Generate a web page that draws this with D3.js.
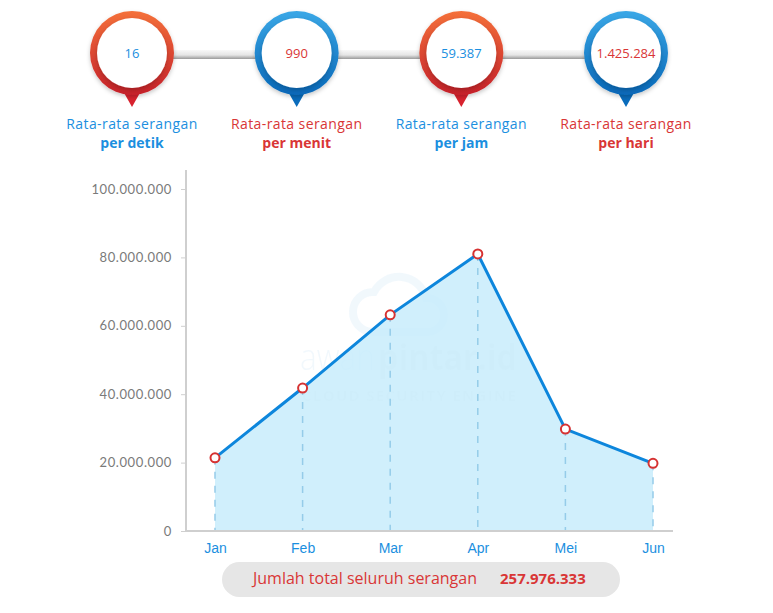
<!DOCTYPE html>
<html>
<head>
<meta charset="utf-8">
<script src="https://cdn.jsdelivr.net/npm/d3@7"></script>
<style>
  body { margin: 0; background: #fff; }
  svg { display: block; font-family: "Open Sans", sans-serif; }
</style>
</head>
<body>
<div id="chart"></div>
<script>
// data
const months = ['Jan', 'Feb', 'Mar', 'Apr', 'Mei', 'Jun'];
const attacks = [21400000, 41800000, 63200000, 81000000, 29800000, 19800000];
const yTicks = [0, 20000000, 40000000, 60000000, 80000000, 100000000];

const badgeValues = ['16', '990', '59.387', '1.425.284'];
const badgeUnits = ['per detik', 'per menit', 'per jam', 'per hari'];
const badgeTheme = ['red', 'blue', 'red', 'blue'];
const totalLabel = 'Jumlah total seluruh serangan';
const totalValue = '257.976.333';

const W = 773, H = 613;
const blue = '#1b8fe0', red = '#d93636';
const fmt = v => d3.format(',')(v).replace(/,/g, '.');

const svg = d3.select('#chart').append('svg')
  .attr('width', W).attr('height', H);

const defs = svg.append('defs');
const gRed = defs.append('linearGradient').attr('id', 'gRed')
  .attr('x1', 0).attr('y1', 0).attr('x2', 0).attr('y2', 1);
gRed.append('stop').attr('offset', '0%').attr('stop-color', '#f4703a');
gRed.append('stop').attr('offset', '100%').attr('stop-color', '#c5202a');
const gBlue = defs.append('linearGradient').attr('id', 'gBlue')
  .attr('x1', 0).attr('y1', 0).attr('x2', 0).attr('y2', 1);
gBlue.append('stop').attr('offset', '0%').attr('stop-color', '#3aa7e6');
gBlue.append('stop').attr('offset', '100%').attr('stop-color', '#0868b8');
const gBar = defs.append('linearGradient').attr('id', 'gBar')
  .attr('x1', 0).attr('y1', 0).attr('x2', 0).attr('y2', 1);
gBar.append('stop').attr('offset', '0%').attr('stop-color', '#f8f8f8');
gBar.append('stop').attr('offset', '55%').attr('stop-color', '#e6e6e6');
gBar.append('stop').attr('offset', '100%').attr('stop-color', '#9a9a9a');
const shadow = defs.append('filter').attr('id', 'shadow')
  .attr('x', '-30%').attr('y', '-30%').attr('width', '160%').attr('height', '160%');
shadow.append('feDropShadow').attr('dx', 0).attr('dy', 2).attr('stdDeviation', 2)
  .attr('flood-color', '#000').attr('flood-opacity', 0.22);

// badges row
const bx = d3.scalePoint().domain(d3.range(badgeValues.length)).range([132, 626]);
const by = 53;

svg.append('rect')
  .attr('x', bx(0)).attr('y', 50).attr('width', bx(3) - bx(0)).attr('height', 9)
  .attr('fill', 'url(#gBar)');

const badge = svg.selectAll('.badge')
  .data(badgeValues)
  .enter().append('g')
  .attr('class', 'badge')
  .attr('transform', (d, i) => `translate(${bx(i)},${by})`);

badge.append('path')
  .attr('d', 'M-9,38 L0,54 L9,38 Z')
  .attr('fill', (d, i) => badgeTheme[i] === 'red' ? '#d8222e' : '#0a6cbc');
badge.append('circle')
  .attr('r', 42)
  .attr('fill', (d, i) => badgeTheme[i] === 'red' ? 'url(#gRed)' : 'url(#gBlue)')
  .attr('filter', 'url(#shadow)');
badge.append('circle')
  .attr('r', 35)
  .attr('fill', '#fff')
  .attr('filter', 'url(#shadow)');
badge.append('text')
  .attr('text-anchor', 'middle').attr('dy', '0.35em')
  .attr('font-size', 13)
  .attr('fill', (d, i) => badgeTheme[i] === 'red' ? blue : red)
  .text(d => d);
badge.append('text')
  .attr('text-anchor', 'middle').attr('y', 129 - by)
  .attr('font-size', 14).attr('letter-spacing', 0.4)
  .attr('fill', (d, i) => badgeTheme[i] === 'red' ? blue : red)
  .text('Rata-rata serangan');
badge.append('text')
  .attr('text-anchor', 'middle').attr('y', 148 - by)
  .attr('font-size', 14).attr('font-weight', 'bold')
  .attr('fill', (d, i) => badgeTheme[i] === 'red' ? blue : red)
  .text((d, i) => badgeUnits[i]);

// chart
const x = d3.scalePoint().domain(months).range([215, 653]);
const y = d3.scaleLinear().domain([0, 100000000]).range([531, 189]);

// watermark
const wm = svg.append('g').attr('opacity', 0.06);
wm.append('path')
  .attr('d', 'M372,332 a20,20 0 0 1 2,-40 a28,28 0 0 1 52,6 a17,17 0 0 1 2,34 Z')
  .attr('fill', 'none').attr('stroke', '#2a8fd8').attr('stroke-width', 8);
wm.append('text').attr('x', 300).attr('y', 370).attr('font-size', 36)
  .attr('textLength', 75).attr('lengthAdjust', 'spacingAndGlyphs')
  .attr('font-weight', 300).attr('fill', '#2a8fd8').text('awan');
wm.append('text').attr('x', 378).attr('y', 370).attr('font-size', 36)
  .attr('textLength', 139).attr('lengthAdjust', 'spacingAndGlyphs')
  .attr('font-weight', 'bold').attr('fill', '#333').text('pintar.id');
wm.append('text').attr('x', 302).attr('y', 401).attr('font-size', 15)
  .attr('font-weight', 'bold').attr('fill', '#333')
  .attr('textLength', 214).attr('lengthAdjust', 'spacing')
  .text('CLOUD SECURITY ENGINE');

const area = d3.area().x(d => x(d.m)).y0(y(0)).y1(d => y(d.v));
const line = d3.line().x(d => x(d.m)).y(d => y(d.v));
const pts = months.map((m, i) => ({ m, v: attacks[i] }));

svg.append('path').datum(pts)
  .attr('d', area).attr('fill', '#c8ecfc').attr('opacity', 0.85);

svg.selectAll('.drop')
  .data(pts).enter().append('line')
  .attr('x1', d => x(d.m)).attr('x2', d => x(d.m))
  .attr('y1', d => y(d.v)).attr('y2', y(0))
  .attr('stroke', '#95cce9').attr('stroke-width', 1.5)
  .attr('stroke-dasharray', '7,7');

// y axis
const yAxis = svg.append('g')
  .attr('transform', 'translate(186,0)')
  .call(d3.axisLeft(y).tickValues(yTicks).tickFormat(fmt).tickSize(5).tickPadding(9));
yAxis.select('.domain').attr('stroke', '#cfcfcf').attr('stroke-width', 2)
  .attr('d', `M0,${170}V${y(0)}`);
yAxis.selectAll('.tick line').attr('stroke', '#cfcfcf');
yAxis.selectAll('.tick text').attr('fill', '#7a7a7a')
  .attr('font-size', 13).attr('letter-spacing', 0.6)
  .attr('font-family', 'Lato, sans-serif');

// x axis
const xAxis = svg.append('g')
  .attr('transform', `translate(0,${y(0)})`)
  .call(d3.axisBottom(x).tickSize(0).tickPadding(12));
xAxis.select('.domain').attr('stroke', '#cfcfcf').attr('stroke-width', 2)
  .attr('d', 'M186,0H673');
xAxis.selectAll('.tick text').attr('fill', blue).attr('font-size', 14);

svg.append('path').datum(pts)
  .attr('d', line).attr('fill', 'none')
  .attr('stroke', '#0d86dc').attr('stroke-width', 3);

svg.selectAll('.dot')
  .data(pts).enter().append('circle')
  .attr('cx', d => x(d.m)).attr('cy', d => y(d.v)).attr('r', 4.5)
  .attr('fill', '#fff').attr('stroke', '#d63232').attr('stroke-width', 2);

// total pill
svg.append('rect')
  .attr('x', 222).attr('y', 562).attr('width', 398).attr('height', 35)
  .attr('rx', 17.5).attr('fill', '#e6e6e6');
svg.append('text').attr('x', 253).attr('y', 584)
  .attr('font-size', 16).attr('fill', red)
  .attr('textLength', 224).attr('lengthAdjust', 'spacing')
  .text(totalLabel);
svg.append('text').attr('x', 500).attr('y', 584)
  .attr('font-size', 15).attr('font-weight', 'bold').attr('fill', red).text(totalValue);
</script>
</body>
</html>
